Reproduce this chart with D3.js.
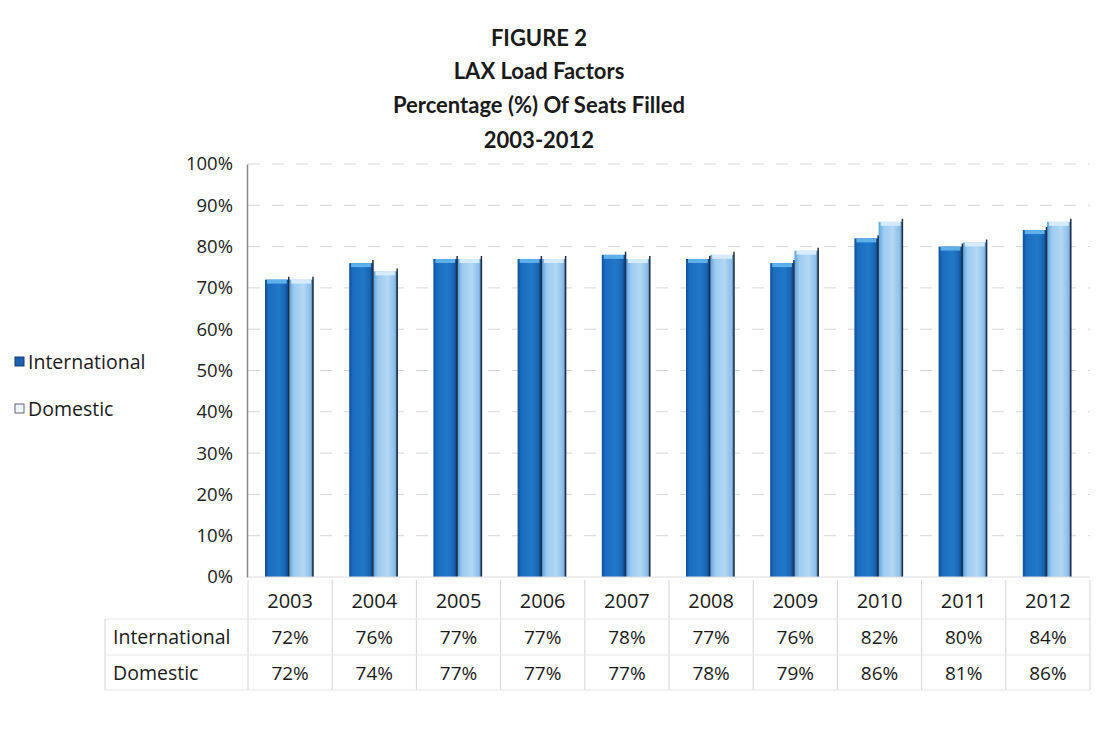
<!DOCTYPE html>
<html><head><meta charset="utf-8">
<script src="https://cdn.jsdelivr.net/npm/d3@7/dist/d3.min.js"></script>
<style>body{margin:0;background:#fff;}svg{display:block;}</style>
</head><body>
<svg id="c" width="1114" height="743"></svg>
<script>
const years = ["2003","2004","2005","2006","2007","2008","2009","2010","2011","2012"];
const international = [72,76,77,77,78,77,76,82,80,84];
const domestic = [72,74,77,77,77,78,79,86,81,86];
const seriesNames = ["International","Domestic"];
const yTicks = [0,10,20,30,40,50,60,70,80,90,100];
const titleLines = ["FIGURE 2","LAX Load Factors","Percentage (%) Of Seats Filled","2003-2012"];

const svg = d3.select("#c");
const font = "'Open Sans', 'Liberation Sans', sans-serif";
const titleFont = "Lato, 'Open Sans', sans-serif";
const defs = svg.append("defs");
const g1 = defs.append("linearGradient").attr("id","gInt");
[["0%","#0d4f9a"],["15%","#1b6cc0"],["60%","#2178c9"],["85%","#1a66b5"],["100%","#0b3f80"]].forEach(s=>g1.append("stop").attr("offset",s[0]).attr("stop-color",s[1]));
const g2 = defs.append("linearGradient").attr("id","gDom");
[["0%","#5aa2dd"],["20%","#9ccbf0"],["60%","#b3d8f5"],["90%","#8bbde8"],["100%","#3d6f9e"]].forEach(s=>g2.append("stop").attr("offset",s[0]).attr("stop-color",s[1]));

// title
const tY = [46,79,113,148];
titleLines.forEach((t,i)=>svg.append("text").attr("x",539).attr("y",tY[i]).attr("text-anchor","middle")
  .attr("font-family",titleFont).attr("font-weight","bold").attr("font-size",22).attr("fill","#1a1a1a").text(t));

const x = d3.scaleBand().domain(years).range([248,1090]);
const y = d3.scaleLinear().domain([0,100]).range([577,164]);
const sub = d3.scaleBand().domain(seriesNames).range([17,65]).paddingInner(0.02);

// gridlines
svg.append("g").selectAll("line").data(yTicks.filter(d=>d>0)).join("line")
  .attr("x1",248).attr("x2",1090).attr("y1",d=>y(d)).attr("y2",d=>y(d))
  .attr("stroke","#d6d6d6").attr("stroke-width",1).attr("stroke-dasharray","12,12");

// y axis
const yAxis = d3.axisLeft(y).tickValues(yTicks).tickFormat(d=>d+"%").tickSize(0).tickPadding(14);
const ya = svg.append("g").attr("transform","translate(247,0)").call(yAxis);
ya.select(".domain").attr("stroke","#888").attr("stroke-width",1.5);
ya.selectAll("text").attr("font-family",font).attr("font-size",18.5).attr("fill","#222");

// bars
const data = years.map((yr,i)=>({yr, vals:[{s:"International",v:international[i]},{s:"Domestic",v:domestic[i]}]}));
const cat = svg.append("g").selectAll("g").data(data).join("g").attr("transform",d=>`translate(${x(d.yr)},0)`);
cat.selectAll("rect.bar").data(d=>d.vals).join("rect").attr("class","bar")
  .attr("x",d=>sub(d.s)).attr("width",sub.bandwidth())
  .attr("y",d=>y(d.v)).attr("height",d=>y(0)-y(d.v))
  .attr("fill",d=>d.s==="International"?"url(#gInt)":"url(#gDom)");
cat.selectAll("rect.cap").data(d=>d.vals).join("rect").attr("class","cap")
  .attr("x",d=>sub(d.s)+2).attr("width",sub.bandwidth()-4)
  .attr("y",d=>y(d.v)).attr("height",4)
  .attr("fill",d=>d.s==="International"?"#5eb0ea":"#d6ebfb");
cat.selectAll("line.edge").data(d=>d.vals).join("line").attr("class","edge")
  .attr("x1",d=>sub(d.s)+sub.bandwidth()).attr("x2",d=>sub(d.s)+sub.bandwidth())
  .attr("y1",d=>y(d.v)-3).attr("y2",y(0))
  .attr("stroke","#1d2f4a").attr("stroke-width",1.5);
// baseline
svg.append("line").attr("x1",248).attr("x2",1090).attr("y1",y(0)).attr("y2",y(0)).attr("stroke","#ddd");

// data table
const rowY = [601,637,673];
const tbl = svg.append("g").attr("font-family",font).attr("fill","#1a1a1a");
tbl.selectAll("text.yr").data(years).join("text").attr("class","yr")
  .attr("x",d=>x(d)+x.bandwidth()/2).attr("y",rowY[0]+7).attr("text-anchor","middle")
  .attr("font-size",20).text(d=>d);
[international,domestic].forEach((arr,r)=>{
  tbl.append("text").attr("x",113).attr("y",rowY[r+1]+7).attr("font-size",19.5).text(seriesNames[r]);
  tbl.selectAll("text.v"+r).data(arr).join("text").attr("class","v"+r)
    .attr("x",(d,i)=>x(years[i])+x.bandwidth()/2).attr("y",rowY[r+1]+7).attr("text-anchor","middle")
    .attr("font-size",19).text(d=>d+"%");
});
// table lines
tbl.selectAll("line.v").data(years.concat(["end"])).join("line").attr("class","v")
  .attr("x1",(d,i)=>248+i*x.bandwidth()).attr("x2",(d,i)=>248+i*x.bandwidth())
  .attr("y1",580).attr("y2",690).attr("stroke","#d4d4d4");
tbl.append("line").attr("x1",105).attr("x2",105).attr("y1",619).attr("y2",690).attr("stroke","#d4d4d4");
[619,655,690].forEach(yy=>tbl.append("line").attr("x1",105).attr("x2",1090).attr("y1",yy).attr("y2",yy).attr("stroke","#e6e6e6"));

// legend
const leg = svg.append("g").attr("font-family",font);
seriesNames.forEach((s,i)=>{
  const ly = 362 + i*47;
  leg.append("rect").attr("x",15).attr("y",ly-5).attr("width",9).attr("height",9)
    .attr("fill",i===0?"#1f5fb0":"#eef5fc").attr("stroke",i===0?"#123f7a":"#667");
  leg.append("text").attr("x",28).attr("y",ly+7).attr("font-size",19.5).attr("fill","#1a1a1a").text(s);
});
</script>
</body></html>
